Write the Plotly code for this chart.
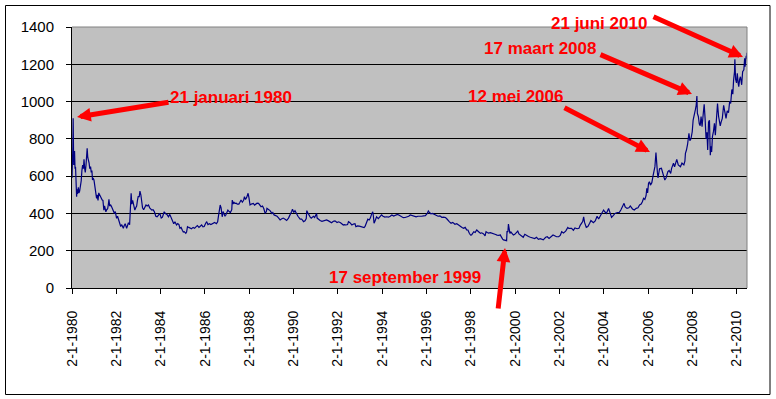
import plotly.graph_objects as go

# ---------------- data ----------------
dates_1980s = [
    "1980-01-02", "1980-01-09", "1980-01-16", "1980-01-21", "1980-01-24", "1980-01-30", "1980-02-06", "1980-02-13",
    "1980-02-21", "1980-02-29", "1980-03-07", "1980-03-14", "1980-03-18", "1980-03-26", "1980-04-03", "1980-04-15",
    "1980-04-25", "1980-05-07", "1980-05-20", "1980-06-02", "1980-06-13", "1980-06-25", "1980-07-08", "1980-07-18",
    "1980-07-29", "1980-08-08", "1980-08-20", "1980-09-01", "1980-09-08", "1980-09-18", "1980-09-29", "1980-10-10",
    "1980-10-21", "1980-11-03", "1980-11-14", "1980-11-25", "1980-12-05", "1980-12-15", "1980-12-29",
    "1981-01-08", "1981-01-16", "1981-01-27", "1981-02-10", "1981-02-20", "1981-03-06", "1981-03-18", "1981-04-01",
    "1981-04-14", "1981-04-28", "1981-05-14", "1981-05-26", "1981-06-10", "1981-06-22", "1981-07-13", "1981-07-27",
    "1981-08-12", "1981-08-24", "1981-09-02", "1981-09-14", "1981-10-01", "1981-10-16", "1981-11-02", "1981-11-18",
    "1981-12-02", "1981-12-16",
    "1982-01-06", "1982-01-22", "1982-02-10", "1982-03-01", "1982-03-15", "1982-04-01", "1982-04-27", "1982-05-12",
    "1982-05-28", "1982-06-21", "1982-07-02", "1982-07-20", "1982-08-09", "1982-08-17", "1982-08-25", "1982-09-03",
    "1982-09-14", "1982-09-28", "1982-10-09", "1982-10-22", "1982-11-03", "1982-11-18", "1982-12-03", "1982-12-16",
    "1982-12-28",
    "1983-01-14", "1983-01-26", "1983-02-10", "1983-02-25", "1983-03-10", "1983-03-28", "1983-04-15", "1983-05-06",
    "1983-05-25", "1983-06-15", "1983-07-06", "1983-07-27", "1983-08-10", "1983-08-30", "1983-09-20", "1983-10-15",
    "1983-11-05", "1983-11-25", "1983-12-20",
    "1984-01-12", "1984-02-01", "1984-03-01", "1984-03-20", "1984-04-15", "1984-05-10", "1984-06-01", "1984-06-25",
    "1984-07-15", "1984-08-05", "1984-08-25", "1984-09-20", "1984-10-10", "1984-10-30", "1984-11-15", "1984-12-05",
    "1984-12-25",
    "1985-01-10", "1985-01-25", "1985-02-20", "1985-03-05", "1985-03-20", "1985-04-10", "1985-05-01", "1985-05-25",
    "1985-06-20", "1985-07-15", "1985-08-10", "1985-08-30", "1985-09-25", "1985-10-20", "1985-11-08", "1985-11-30",
    "1985-12-20",
    "1986-01-10", "1986-01-31", "1986-02-20", "1986-03-15", "1986-04-10", "1986-05-10", "1986-06-10", "1986-07-10",
    "1986-07-30", "1986-08-10", "1986-08-25", "1986-09-10", "1986-09-25", "1986-10-13", "1986-10-28", "1986-11-12",
    "1986-11-28", "1986-12-10", "1986-12-30",
    "1987-01-15", "1987-02-05", "1987-02-25", "1987-03-20", "1987-03-28", "1987-04-10", "1987-04-25", "1987-05-10",
    "1987-06-01", "1987-06-20", "1987-07-15", "1987-08-01", "1987-08-20", "1987-09-10", "1987-10-01", "1987-10-15",
    "1987-11-01", "1987-11-20", "1987-12-05", "1987-12-14", "1987-12-28",
    "1988-01-15", "1988-02-05", "1988-03-10", "1988-03-30", "1988-04-20", "1988-05-10", "1988-06-03", "1988-06-25",
    "1988-07-15", "1988-08-08", "1988-08-30", "1988-09-20", "1988-10-10", "1988-10-20", "1988-11-15", "1988-12-10",
    "1989-01-10", "1989-01-25", "1989-02-15", "1989-03-10", "1989-04-05", "1989-04-25", "1989-05-25", "1989-06-15",
    "1989-07-15", "1989-08-15", "1989-09-10", "1989-10-10", "1989-11-10", "1989-12-01", "1989-12-15",
]
prices_1980s = [
    590, 660, 760, 910, 700, 660, 690, 735,
    640, 650, 590, 520, 490, 530, 505, 540,
    510, 520, 545, 575, 630, 660, 640, 690,
    640, 620, 660, 720, 750, 700, 690, 670,
    640, 651, 620, 630, 579, 590, 580,
    560, 526, 510, 481, 500, 470, 510, 499,
    490, 480, 472, 470, 418, 440, 409, 420,
    425, 450, 476, 440, 445, 436, 420, 405,
    400, 410,
    374, 385, 365, 347, 330, 340, 320, 335,
    345, 320, 338, 350, 340, 418, 460, 508,
    450, 470, 454, 420, 418, 430, 440, 470,
    490,
    490, 520, 500, 445, 430, 420, 436, 445,
    440, 445, 430, 425, 418, 420, 410, 385,
    382, 390, 400,
    375, 380, 409, 400, 395, 382, 395, 375,
    365, 345, 355, 338, 345, 340, 320, 325,
    310,
    300, 302, 293, 300, 329, 325, 320, 318,
    325, 320, 329, 335, 325, 330, 338, 328,
    330,
    345, 356, 340, 345, 340, 345, 351, 345,
    355, 380, 418, 445, 430, 382, 410, 400,
    385, 390, 409,
    418, 410, 405, 420, 472, 450, 460, 454,
    455, 450, 450, 460, 472, 460, 470, 490,
    475, 485, 500, 508, 485,
    445, 450, 454, 445, 450, 455, 454, 445,
    436, 440, 425, 400, 410, 427, 420, 415,
    400, 405, 392, 390, 385, 378, 365, 370,
    375, 369, 362, 375, 392, 410, 422,
]

dates_1990s = [
    "1990-01-05", "1990-01-25", "1990-02-15", "1990-03-15", "1990-04-20", "1990-05-15", "1990-06-15", "1990-07-10",
    "1990-07-30", "1990-08-08", "1990-08-22", "1990-09-10", "1990-10-01", "1990-10-20", "1990-11-25", "1990-12-15",
    "1991-01-16", "1991-01-25", "1991-02-15", "1991-03-15", "1991-04-15", "1991-05-15", "1991-06-01", "1991-06-30",
    "1991-08-01", "1991-08-25", "1991-09-20", "1991-10-20", "1991-11-15", "1991-12-20",
    "1992-01-15", "1992-02-15", "1992-03-15", "1992-04-01", "1992-04-20", "1992-05-15", "1992-06-10", "1992-06-25",
    "1992-07-15", "1992-08-20", "1992-09-15", "1992-10-10", "1992-10-25", "1992-11-20", "1992-12-20",
    "1993-01-15", "1993-02-10", "1993-03-10", "1993-03-25", "1993-04-10", "1993-04-30", "1993-05-10", "1993-06-01",
    "1993-06-20", "1993-07-10", "1993-07-30", "1993-08-10", "1993-08-20", "1993-09-01", "1993-09-20", "1993-10-01",
    "1993-10-30", "1993-11-20", "1993-12-22",
    "1994-01-15", "1994-02-15", "1994-03-15", "1994-04-15", "1994-05-15", "1994-06-10", "1994-07-10", "1994-08-10",
    "1994-09-10", "1994-10-10", "1994-11-15", "1994-12-15",
    "1995-01-15", "1995-02-15", "1995-03-15", "1995-04-10", "1995-05-10", "1995-06-10", "1995-07-15", "1995-08-15",
    "1995-09-15", "1995-10-15", "1995-11-15", "1995-12-15",
    "1996-01-15", "1996-02-02", "1996-02-20", "1996-03-15", "1996-04-10", "1996-05-10", "1996-06-10", "1996-07-10",
    "1996-08-10", "1996-09-10", "1996-10-10", "1996-11-10", "1996-12-05", "1996-12-25",
    "1997-01-15", "1997-02-10", "1997-03-10", "1997-04-15", "1997-05-15", "1997-06-15", "1997-07-10", "1997-08-10",
    "1997-09-05", "1997-10-01", "1997-10-25", "1997-11-15", "1997-12-10", "1997-12-30",
    "1998-01-15", "1998-02-20", "1998-03-15", "1998-04-10", "1998-05-10", "1998-06-10", "1998-07-01", "1998-08-01",
    "1998-08-25", "1998-09-10", "1998-09-30", "1998-10-20", "1998-11-20", "1998-12-15",
    "1999-01-15", "1999-02-15", "1999-03-10", "1999-04-10", "1999-05-01", "1999-05-20", "1999-06-10", "1999-06-25",
    "1999-07-20", "1999-08-15", "1999-08-22", "1999-09-05", "1999-09-14", "1999-09-25", "1999-10-08", "1999-10-25",
    "1999-11-15", "1999-12-05", "1999-12-28",
]
prices_1990s = [
    405, 415, 400, 385, 369, 370, 356, 360,
    372, 415, 405, 390, 382, 375, 385, 378,
    400, 375, 369, 362, 358, 360, 361, 365,
    360, 356, 350, 358, 360, 351,
    355, 350, 345, 338, 340, 338, 340, 356,
    352, 338, 343, 345, 329, 333, 332,
    329, 330, 324, 330, 345, 355, 369, 365,
    375, 395, 409, 385, 347, 355, 375, 382,
    372, 380, 392,
    385, 380, 382, 380, 385, 392, 386, 390,
    395, 390, 385, 377,
    378, 380, 385, 392, 388, 385, 382, 385,
    383, 385, 387, 388,
    400, 413, 405, 398, 400, 395, 392, 385,
    387, 379, 380, 378, 370, 365,
    355, 347, 352, 342, 345, 338, 330, 325,
    320, 325, 312, 311, 292, 284,
    285, 302, 298, 311, 302, 293, 296, 290,
    280, 302, 298, 295, 297, 293,
    288, 287, 284, 282, 285, 272, 262, 258,
    254, 254, 305, 300, 343, 315, 293, 300,
    292, 284, 288,
]

dates_2000s = [
    "2000-01-15", "2000-02-05", "2000-02-15", "2000-03-05", "2000-04-20", "2000-05-15", "2000-06-10", "2000-07-10",
    "2000-08-10", "2000-09-10", "2000-10-25", "2000-11-20", "2000-12-20",
    "2001-01-20", "2001-02-20", "2001-03-20", "2001-04-10", "2001-05-20", "2001-06-15", "2001-07-15", "2001-08-15",
    "2001-09-18", "2001-10-15", "2001-11-15", "2001-12-20",
    "2002-01-15", "2002-02-08", "2002-03-10", "2002-04-15", "2002-05-20", "2002-06-05", "2002-07-20", "2002-08-20",
    "2002-09-15", "2002-10-20", "2002-11-20", "2002-12-10", "2002-12-30",
    "2003-01-20", "2003-02-05", "2003-02-20", "2003-03-20", "2003-04-15", "2003-05-15", "2003-06-05", "2003-07-15",
    "2003-08-15", "2003-09-15", "2003-10-10", "2003-11-15", "2003-12-31",
    "2004-01-20", "2004-02-15", "2004-03-22", "2004-04-15", "2004-05-10", "2004-06-10", "2004-07-05", "2004-08-15",
    "2004-09-15", "2004-10-10", "2004-11-10", "2004-12-02", "2004-12-20",
    "2005-01-20", "2005-02-20", "2005-03-15", "2005-04-20", "2005-05-20", "2005-06-20", "2005-07-20", "2005-08-15",
    "2005-09-10", "2005-09-30", "2005-10-20", "2005-11-10", "2005-11-30", "2005-12-12", "2005-12-25",
    "2006-01-10", "2006-01-25", "2006-02-10", "2006-03-05", "2006-03-25", "2006-04-10", "2006-04-25", "2006-05-12",
    "2006-05-22", "2006-06-05", "2006-06-15", "2006-07-10", "2006-08-10", "2006-09-10", "2006-10-05", "2006-10-25",
    "2006-11-25", "2006-12-15",
    "2007-01-10", "2007-01-25", "2007-02-25", "2007-03-15", "2007-04-20", "2007-05-15", "2007-06-20", "2007-07-15",
    "2007-08-15", "2007-09-01", "2007-09-10", "2007-09-27", "2007-10-15", "2007-11-07", "2007-11-22", "2007-12-10",
    "2007-12-31",
    "2008-01-15", "2008-02-01", "2008-02-20", "2008-03-05", "2008-03-17", "2008-03-25", "2008-04-10", "2008-04-25",
    "2008-05-10", "2008-05-25", "2008-06-10", "2008-07-01", "2008-07-15", "2008-07-30", "2008-08-15", "2008-08-30",
    "2008-09-11", "2008-09-25", "2008-10-10", "2008-10-24", "2008-11-05", "2008-11-15", "2008-11-28", "2008-12-15",
    "2008-12-31",
    "2009-01-15", "2009-02-02", "2009-02-20", "2009-03-10", "2009-04-06", "2009-04-20", "2009-05-10", "2009-06-01",
    "2009-06-20", "2009-07-10", "2009-07-30", "2009-08-20", "2009-09-08", "2009-09-25", "2009-10-14", "2009-10-30",
    "2009-11-12", "2009-11-27", "2009-12-03", "2009-12-15", "2009-12-30",
]
prices_2000s = [
    296, 302, 305, 290, 275, 272, 288, 281,
    276, 272, 268, 265, 272,
    261, 265, 263, 258, 272, 275, 266, 273,
    284, 280, 275, 275,
    282, 302, 295, 305, 325, 320, 320, 310,
    322, 318, 320, 336, 345,
    356, 382, 352, 325, 330, 347, 362, 350,
    360, 385, 370, 392, 418,
    409, 400, 427, 400, 379, 390, 400, 405,
    406, 418, 440, 454, 435,
    427, 430, 440, 424, 418, 427, 430, 445,
    450, 463, 481, 475, 495, 535, 510,
    562, 570, 552, 565, 601, 620, 651, 726,
    651, 620, 590, 640, 642, 610, 579, 590,
    624, 630,
    615, 642, 669, 650, 690, 660, 650, 670,
    660, 680, 722, 740, 770, 830, 790, 800,
    838,
    901, 920, 955, 980, 1030, 937, 920, 880,
    870, 919, 865, 940, 985, 910, 800, 835,
    740, 890, 900, 712, 760, 730, 812, 840,
    883,
    820, 920, 990, 920, 870, 890, 910, 980,
    930, 910, 950, 940, 1000, 990, 1065, 1040,
    1115, 1160, 1227, 1120, 1100,
]

dates_2010 = ["2010-01-12", "2010-01-27", "2010-02-05", "2010-02-20", "2010-03-05", "2010-03-25", "2010-04-10",
              "2010-04-30", "2010-05-13", "2010-05-20", "2010-06-01", "2010-06-08", "2010-06-15", "2010-06-21"]
prices_2010 = [1152, 1098, 1080, 1120, 1133, 1090, 1160, 1170, 1232, 1187, 1215, 1245, 1230, 1262]

tick_dates = ["1980-01-02", "1982-01-02", "1984-01-02", "1986-01-02", "1988-01-02", "1990-01-02",
              "1992-01-02", "1994-01-02", "1996-01-02", "1998-01-02", "2000-01-02", "2002-01-02",
              "2004-01-02", "2006-01-02", "2008-01-02", "2010-01-02"]
tick_labels = ["2-1-1980", "2-1-1982", "2-1-1984", "2-1-1986", "2-1-1988", "2-1-1990",
               "2-1-1992", "2-1-1994", "2-1-1996", "2-1-1998", "2-1-2000", "2-1-2002",
               "2-1-2004", "2-1-2006", "2-1-2008", "2-1-2010"]
y_ticks = [0, 200, 400, 600, 800, 1000, 1200, 1400]

dates = dates_1980s + dates_1990s + dates_2000s + dates_2010
prices = prices_1980s + prices_1990s + prices_2000s + prices_2010

# ---------------- layout ----------------
W, H = 776, 399
L, R, T, B = 72, 29, 27, 111
PW, PH = W - L - R, H - T - B


def px(x, y):
    """figure pixel -> paper coordinates"""
    return (x - L) / PW, (H - B - y) / PH


FONT = "Liberation Sans, Arial, sans-serif"

fig = go.Figure()
fig.add_trace(go.Scatter(x=dates, y=prices, mode="lines",
                         line=dict(color="#000080", width=1.2), hoverinfo="x+y"))

labels = [
    ("21 januari 1980", 231, 97.5),
    ("17 september 1999", 405, 277.5),
    ("12 mei 2006", 515.5, 96.7),
    ("17 maart 2008", 540, 48.3),
    ("21 juni 2010", 599, 24),
]
arrows = [  # (head x, head y, tail x, tail y) in figure pixels
    (77, 117, 170, 102),
    (505, 248, 498, 310),
    (650, 152, 563, 107),
    (692, 94, 599, 54),
    (743, 57, 652, 16),
]

annotations = []
for text, cx, cy in labels:
    ax_, ay_ = px(cx, cy)
    annotations.append(dict(text=text, x=ax_, y=ay_, xref="paper", yref="paper",
                            xanchor="center", yanchor="middle", showarrow=False,
                            font=dict(family=FONT, size=17, color="#FF0000", weight="bold")))
for hx, hy, tx, ty in arrows:
    ax_, ay_ = px(hx, hy)
    annotations.append(dict(text="", x=ax_, y=ay_, xref="paper", yref="paper",
                            ax=tx - hx, ay=ty - hy, showarrow=True,
                            arrowhead=2, arrowsize=0.55, arrowwidth=5, arrowcolor="#FF0000",
                            standoff=0, startstandoff=0))

bx0, by0 = px(5.5, 394.5)
bx1, by1 = px(770, 5.5)
shapes = [
    dict(type="rect", xref="paper", yref="paper", x0=bx0, y0=by0, x1=bx1, y1=by1,
         line=dict(color="#000000", width=1), layer="below"),
    dict(type="line", xref="paper", yref="paper", x0=0, y0=1, x1=1, y1=1,
         line=dict(color="#808080", width=1), layer="above"),
    dict(type="line", xref="paper", yref="paper", x0=1, y0=0, x1=1, y1=1,
         line=dict(color="#808080", width=1), layer="above"),
]

fig.update_layout(
    width=W, height=H,
    margin=dict(l=L, r=R, t=T, b=B, pad=0),
    paper_bgcolor="#FFFFFF", plot_bgcolor="#C0C0C0",
    showlegend=False,
    font=dict(family=FONT, color="#000000"),
    annotations=annotations, shapes=shapes,
    xaxis=dict(type="date", range=["1980-01-02", "2010-06-21"],
               tickmode="array", tickvals=tick_dates, ticktext=tick_labels,
               tickangle=-90, tickfont=dict(size=14, family=FONT, color="#000000"),
               ticks="outside", ticklen=5, tickcolor="#000000", tickwidth=1,
               showline=True, linecolor="#000000", linewidth=1,
               showgrid=False, zeroline=False, ticklabelstandoff=11, automargin=False),
    yaxis=dict(range=[0, 1400], tickmode="array", tickvals=y_ticks,
               tickfont=dict(size=15, family=FONT, color="#000000"),
               ticks="outside", ticklen=5, tickcolor="#000000", tickwidth=1,
               showline=True, linecolor="#000000", linewidth=1,
               showgrid=True, gridcolor="#000000", gridwidth=1,
               zeroline=False, ticklabelstandoff=9, automargin=False),
)

fig.write_html("out.html", config={"displayModeBar": False},
               post_script="document.body.style.margin='0';document.body.style.overflow='hidden';")
